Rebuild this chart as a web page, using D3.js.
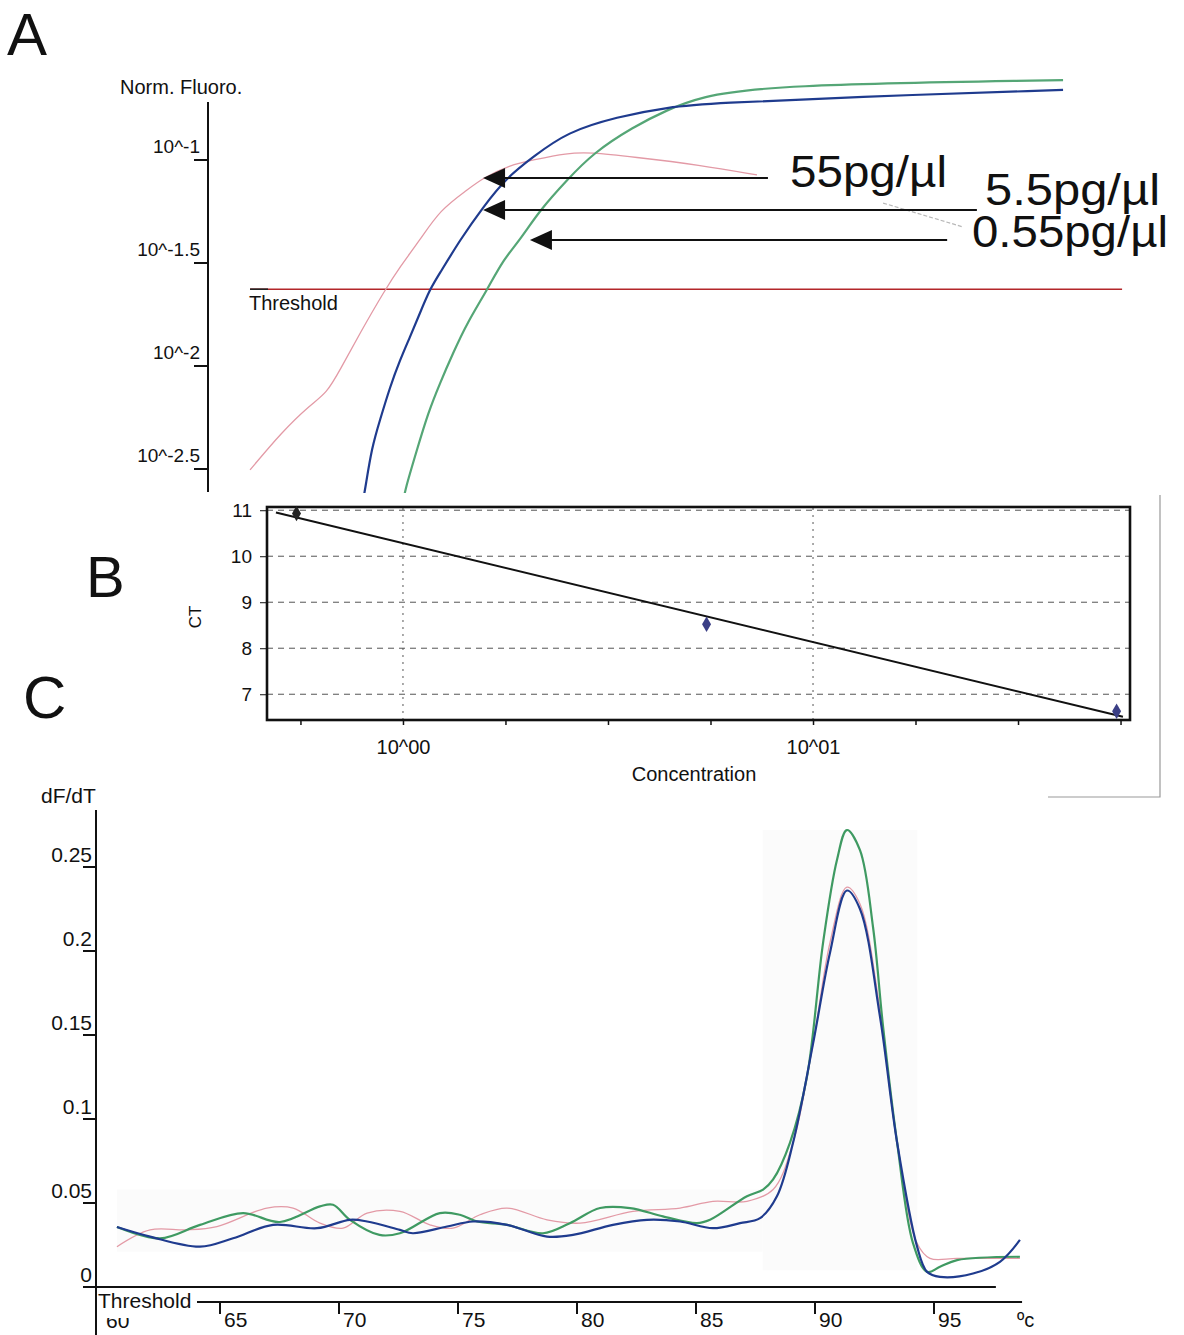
<!DOCTYPE html>
<html>
<head>
<meta charset="utf-8">
<script src="https://cdn.jsdelivr.net/npm/d3@7/dist/d3.min.js"></script>
<style>
  body { margin: 0; background: #fff; }
  text { font-family: "Liberation Sans", Arial, sans-serif; fill: #111; }
</style>
</head>
<body>
<div id="grafica"></div>
<script>
// ===== Datos panel A: curvas de amplificación (ciclo, fluorescencia normalizada) =====
var cicloRosa = [0.96, 2.30, 3.48, 4.19, 4.74, 5.58, 6.63, 7.26, 8.10, 8.94, 10.08, 10.75, 11.88, 12.85, 14.28, 15.24, 17.05, 19.87, 22.26];
var fluoRosa = [0.00313, 0.00479, 0.00647, 0.00740, 0.00957, 0.01445, 0.0234, 0.0303, 0.0409, 0.0572, 0.0715, 0.0818, 0.0946, 0.100, 0.108, 0.109, 0.1035, 0.0946, 0.0846];
var cicloRosaCola = [27.56, 30.92];
var fluoRosaCola = [0.0618, 0.0473];

var cicloAzul = [5.70, 5.79, 6.08, 6.42, 6.84, 7.26, 7.68, 8.10, 8.52, 8.94, 9.78, 10.75, 11.76, 12.85, 14.28, 16.38, 18.48, 20.58, 26.17, 35.12];
var fluoAzul = [0.0022, 0.0025, 0.00405, 0.00547, 0.00791, 0.01069, 0.01383, 0.01808, 0.02366, 0.02825, 0.0409, 0.0591, 0.0826, 0.1035, 0.1368, 0.1618, 0.1807, 0.189, 0.2023, 0.2188];

var cicloVerde = [7.40, 7.47, 7.97, 8.44, 8.94, 9.49, 10.08, 10.92, 11.59, 12.30, 13.14, 14.28, 15.37, 17.05, 18.48, 19.87, 22.68, 35.12];
var fluoVerde = [0.0022, 0.0025, 0.00391, 0.00592, 0.00826, 0.01156, 0.01618, 0.0234, 0.0327, 0.0409, 0.0572, 0.080, 0.108, 0.1445, 0.175, 0.2023, 0.231, 0.2443];

var umbral = 0.0236;
var umbralCiclos = [0.96, 37.6];
var ticksA = [0.1, 0.0316228, 0.01, 0.00316228];
var etiquetasA = ["10^-1", "10^-1.5", "10^-2", "10^-2.5"];

// flechas: punta (ciclo), final (ciclo), altura (fluorescencia)
var flechaPunta = [10.75, 10.75, 12.72];
var flechaFin = [22.72, 31.5, 30.25];
var flechaFluo = [0.0818, 0.0572, 0.0409];
var concTexto = ["55pg/µl", "5.5pg/µl", "0.55pg/µl"];

// ===== Datos panel B: curva estándar =====
var concB = [0.55, 5.5, 55];
var ctB = [10.93, 8.52, 6.63];
var ticksCT = [7, 8, 9, 10, 11];
var ticksConc = [0.5623, 1, 1.778, 3.162, 5.623, 10, 17.78, 31.62, 56.23];
var rejillaConc = [1, 10];
var rangoAjuste = [0.49, 57];

// ===== Datos panel C: curvas de fusión (temperatura, dF/dT) =====
var tempVerde = [60.67, 62.48, 64.16, 65.97, 67.52, 69.2, 69.75, 70.46, 71.7, 72.56, 74.24, 75.08, 75.8, 77.06, 78.57, 79.7, 80.97, 82.23, 83.61, 85.04, 85.59, 87.14, 87.82, 88.24, 88.95, 89.66, 90.34, 90.92, 91.34, 91.89, 92.44, 92.86, 93.45, 94.12, 94.71, 95.25, 95.97, 98.61];
var dfVerde = [0.0357, 0.029, 0.037, 0.044, 0.0387, 0.048, 0.049, 0.040, 0.031, 0.032, 0.044, 0.043, 0.039, 0.037, 0.032, 0.038, 0.047, 0.047, 0.042, 0.038, 0.040, 0.054, 0.058, 0.064, 0.086, 0.125, 0.205, 0.254, 0.272, 0.260, 0.214, 0.155, 0.086, 0.026, 0.009, 0.012, 0.016, 0.018];

var tempAzul = [60.67, 62.06, 64.16, 65.55, 67.23, 69.08, 70.46, 71.18, 72.56, 73.1, 74.54, 75.63, 77.06, 78.74, 79.83, 81.51, 82.94, 84.33, 85.71, 86.85, 87.69, 88.4, 89.08, 89.92, 90.63, 91.34, 91.89, 92.73, 93.45, 94.29, 94.71, 95.25, 96.64, 97.77, 98.61];
var dfAzul = [0.0357, 0.030, 0.024, 0.029, 0.037, 0.035, 0.040, 0.039, 0.034, 0.032, 0.036, 0.039, 0.037, 0.030, 0.031, 0.037, 0.040, 0.039, 0.035, 0.038, 0.041, 0.054, 0.086, 0.145, 0.199, 0.236, 0.225, 0.161, 0.086, 0.024, 0.009, 0.006, 0.008, 0.015, 0.028];

var tempRosa = [60.67, 62.06, 63.61, 64.87, 66.97, 68.07, 69.2, 70.17, 71.18, 72.56, 73.82, 74.79, 75.92, 77.06, 78.74, 80.13, 82.35, 84.33, 85.71, 87.14, 88.24, 89.08, 89.92, 90.63, 91.34, 91.89, 92.73, 93.45, 94.29, 94.83, 95.97, 98.61];
var dfRosa = [0.024, 0.034, 0.034, 0.036, 0.047, 0.047, 0.038, 0.035, 0.044, 0.045, 0.037, 0.035, 0.043, 0.047, 0.040, 0.038, 0.045, 0.047, 0.051, 0.051, 0.058, 0.086, 0.145, 0.205, 0.238, 0.228, 0.165, 0.086, 0.026, 0.017, 0.017, 0.017];

var ticksDF = [0, 0.05, 0.1, 0.15, 0.2, 0.25];
var etiquetasDF = ["0", "0.05", "0.1", "0.15", "0.2", "0.25"];
var ticksTemp = [65, 70, 75, 80, 85, 90, 95];

// colores
var colRosa = "#e39aa6", colAzul = "#1f3b8e", colVerde = "#55a676";

function unir(xs, ys) {
  return xs.map(function (d, i) { return { x: d, y: ys[i] }; });
}

var svg = d3.select("#grafica")
  .append("svg")
  .attr("width", 1184)
  .attr("height", 1335)
  .style("display", "block");

svg.append("rect").attr("width", 1184).attr("height", 1335).attr("fill", "#fff");

// ================= PANEL A =================
var xA = d3.scaleLinear().domain([0, 40]).range([227.2, 1179.2]);
var yA = d3.scaleLog().domain([0.01, 0.1]).range([366, 160]);

svg.append("text").attr("x", 7).attr("y", 55).style("font-size", "60px").text("A");

svg.append("text").attr("x", 120).attr("y", 94).style("font-size", "20px").text("Norm. Fluoro.");

// eje y
svg.append("line")
  .attr("x1", 208).attr("x2", 208).attr("y1", 102).attr("y2", 492)
  .attr("stroke", "#111").attr("stroke-width", 2);

svg.selectAll("tickA")
  .data(ticksA)
  .enter()
  .append("line")
  .attr("x1", 194).attr("x2", 208)
  .attr("y1", function (d) { return yA(d); })
  .attr("y2", function (d) { return yA(d); })
  .attr("stroke", "#111").attr("stroke-width", 2);

svg.selectAll("labA")
  .data(ticksA)
  .enter()
  .append("text")
  .attr("x", 200)
  .attr("y", function (d) { return yA(d) - 7; })
  .attr("text-anchor", "end")
  .style("font-size", "19px")
  .text(function (d, i) { return etiquetasA[i]; });

svg.append("clipPath").attr("id", "clipA")
  .append("rect").attr("x", 209).attr("y", 60).attr("width", 975).attr("height", 433);

var gA = svg.append("g").attr("clip-path", "url(#clipA)");

var lineaA = d3.line()
  .x(function (d) { return xA(d.x); })
  .y(function (d) { return yA(d.y); })
  .curve(d3.curveBasis);

// umbral
gA.append("line")
  .attr("x1", xA(umbralCiclos[0])).attr("x2", xA(umbralCiclos[1]))
  .attr("y1", yA(umbral)).attr("y2", yA(umbral))
  .attr("stroke", "#b3262a").attr("stroke-width", 1.6);
gA.append("line")
  .attr("x1", xA(umbralCiclos[0])).attr("x2", xA(umbralCiclos[0]) + 18)
  .attr("y1", yA(umbral)).attr("y2", yA(umbral))
  .attr("stroke", "#222").attr("stroke-width", 1.6);

gA.append("path")
  .datum(unir(cicloRosaCola, fluoRosaCola))
  .attr("d", lineaA)
  .attr("fill", "none").attr("stroke", "#b8b8b8").attr("stroke-width", 1.2)
  .style("stroke-dasharray", "4,2");

gA.append("path")
  .datum(unir(cicloRosa, fluoRosa))
  .attr("d", lineaA)
  .attr("fill", "none").attr("stroke", colRosa).attr("stroke-width", 1.3);

gA.append("path")
  .datum(unir(cicloVerde, fluoVerde))
  .attr("d", lineaA)
  .attr("fill", "none").attr("stroke", colVerde).attr("stroke-width", 2.2);

gA.append("path")
  .datum(unir(cicloAzul, fluoAzul))
  .attr("d", lineaA)
  .attr("fill", "none").attr("stroke", colAzul).attr("stroke-width", 2.2);

svg.append("text").attr("x", 249).attr("y", 310).style("font-size", "20px").text("Threshold");

// flechas
var flechas = flechaPunta.map(function (d, i) {
  return { punta: d, fin: flechaFin[i], f: flechaFluo[i] };
});
svg.selectAll("flecha")
  .data(flechas)
  .enter()
  .append("line")
  .attr("x1", function (d) { return xA(d.punta) + 15; })
  .attr("x2", function (d) { return xA(d.fin); })
  .attr("y1", function (d) { return yA(d.f); })
  .attr("y2", function (d) { return yA(d.f); })
  .attr("stroke", "#111").attr("stroke-width", 2);
svg.selectAll("punta")
  .data(flechas)
  .enter()
  .append("path")
  .attr("d", function (d) {
    var x = xA(d.punta), y = yA(d.f);
    return "M" + x + "," + y + "L" + (x + 22) + "," + (y - 10) + "L" + (x + 22) + "," + (y + 10) + "Z";
  })
  .attr("fill", "#111");

var posTexto = [[790, 187, 157], [985, 205, 175], [972, 247, 196]];
svg.selectAll("conc")
  .data(concTexto)
  .enter()
  .append("text")
  .attr("x", function (d, i) { return posTexto[i][0]; })
  .attr("y", function (d, i) { return posTexto[i][1]; })
  .attr("textLength", function (d, i) { return posTexto[i][2]; })
  .attr("lengthAdjust", "spacingAndGlyphs")
  .style("font-size", "44px")
  .text(function (d) { return d; });

// ================= PANEL B =================
var xB = d3.scaleLog().domain([0.466, 59.3]).range([267, 1130]);
var yB = d3.scaleLinear().domain([6.44, 11.07]).range([720, 507]);

svg.append("text").attr("x", 86).attr("y", 597).style("font-size", "58px").text("B");

// rejilla
svg.selectAll("rejH")
  .data(ticksCT)
  .enter()
  .append("line")
  .attr("x1", xB.range()[0]).attr("x2", xB.range()[1])
  .attr("y1", function (d) { return yB(d); })
  .attr("y2", function (d) { return yB(d); })
  .attr("stroke", "#555").attr("stroke-width", 1)
  .style("stroke-dasharray", "6,5");
svg.selectAll("rejV")
  .data(rejillaConc)
  .enter()
  .append("line")
  .attr("x1", function (d) { return xB(d); })
  .attr("x2", function (d) { return xB(d); })
  .attr("y1", yB.range()[0]).attr("y2", yB.range()[1])
  .attr("stroke", "#555").attr("stroke-width", 1)
  .style("stroke-dasharray", "2,5");

// marco
svg.append("rect")
  .attr("x", 267).attr("y", 507).attr("width", 863).attr("height", 213)
  .attr("fill", "none").attr("stroke", "#111").attr("stroke-width", 2.6);

// eje y
svg.append("g")
  .attr("transform", "translate(267,0)")
  .call(d3.axisLeft(yB).tickValues(ticksCT).tickSize(7).tickPadding(8).tickFormat(d3.format("d")))
  .call(function (g) { g.select(".domain").remove(); })
  .call(function (g) {
    g.selectAll("text").style("font-size", "19px").style("font-family", "Liberation Sans, Arial, sans-serif").attr("fill", "#111");
    g.selectAll("line").attr("stroke", "#111");
  });

// eje x
svg.append("g")
  .attr("transform", "translate(0,720)")
  .call(d3.axisBottom(xB).tickValues(ticksConc).tickSize(5).tickPadding(15)
    .tickFormat(function (d) { return d === 1 ? "10^00" : (d === 10 ? "10^01" : ""); }))
  .call(function (g) { g.select(".domain").remove(); })
  .call(function (g) {
    g.selectAll("text").style("font-size", "20px").style("font-family", "Liberation Sans, Arial, sans-serif").attr("fill", "#111");
    g.selectAll("line").attr("stroke", "#111").attr("stroke-width", 1.5);
  });

svg.append("text")
  .attr("x", 694).attr("y", 781)
  .attr("text-anchor", "middle")
  .style("font-size", "20px")
  .text("Concentration");

svg.append("text")
  .attr("transform", "translate(201,617) rotate(-90)")
  .attr("text-anchor", "middle")
  .style("font-size", "17px")
  .text("CT");

// recta de ajuste (mínimos cuadrados sobre log10 de la concentración)
var lx = concB.map(function (d) { return Math.log10(d); });
var mx = d3.mean(lx), my = d3.mean(ctB);
var pendiente = d3.sum(lx, function (d, i) { return (d - mx) * (ctB[i] - my); }) /
  d3.sum(lx, function (d) { return (d - mx) * (d - mx); });
var corte = my - pendiente * mx;
var ajuste = rangoAjuste.map(function (c) { return { x: c, y: corte + pendiente * Math.log10(c) }; });

svg.append("path")
  .datum(ajuste)
  .attr("d", d3.line().x(function (d) { return xB(d.x); }).y(function (d) { return yB(d.y); }))
  .attr("fill", "none").attr("stroke", "#111").attr("stroke-width", 2);

svg.selectAll("punto")
  .data(unir(concB, ctB))
  .enter()
  .append("path")
  .attr("transform", function (d) { return "translate(" + xB(d.x) + "," + yB(d.y) + ")"; })
  .attr("d", d3.symbol().type(d3.symbolDiamond).size(70))
  .attr("fill", function (d, i) { return i === 0 ? "#222" : "#3b3f86"; });

// corchete gris a la derecha
svg.append("path")
  .attr("d", "M1160,495L1160,797L1048,797")
  .attr("fill", "none").attr("stroke", "#999").attr("stroke-width", 1.2);

// ================= PANEL C =================
var xC = d3.scaleLinear().domain([60, 100]).range([101, 1053]);
var yC = d3.scaleLinear().domain([0, 0.25]).range([1287, 867]);

svg.append("text").attr("x", 23).attr("y", 718).style("font-size", "60px").text("C");
svg.append("text").attr("x", 41).attr("y", 803).style("font-size", "21px").text("dF/dT");

// fondos grises tenues
svg.append("rect")
  .attr("x", xC(60.67)).attr("y", yC(0.058))
  .attr("width", xC(87.8) - xC(60.67)).attr("height", yC(0.021) - yC(0.058))
  .attr("fill", "#fbfbfb");
svg.append("rect")
  .attr("x", xC(87.8)).attr("y", yC(0.272))
  .attr("width", xC(94.3) - xC(87.8)).attr("height", yC(0.01) - yC(0.272))
  .attr("fill", "#fbfbfb");

// eje y
svg.append("line")
  .attr("x1", 96).attr("x2", 96).attr("y1", 810).attr("y2", 1335)
  .attr("stroke", "#111").attr("stroke-width", 2);
svg.selectAll("tickC")
  .data(ticksDF)
  .enter()
  .append("line")
  .attr("x1", 83).attr("x2", 96)
  .attr("y1", function (d) { return yC(d); })
  .attr("y2", function (d) { return yC(d); })
  .attr("stroke", "#111").attr("stroke-width", 2);
svg.selectAll("labC")
  .data(ticksDF)
  .enter()
  .append("text")
  .attr("x", 92)
  .attr("y", function (d) { return yC(d) - 5; })
  .attr("text-anchor", "end")
  .style("font-size", "21px")
  .text(function (d, i) { return etiquetasDF[i]; });

// ejes x (dos líneas)
svg.append("line")
  .attr("x1", 96).attr("x2", xC(97.6)).attr("y1", 1287).attr("y2", 1287)
  .attr("stroke", "#111").attr("stroke-width", 2);
svg.append("line")
  .attr("x1", 197).attr("x2", xC(98.7)).attr("y1", 1302).attr("y2", 1302)
  .attr("stroke", "#111").attr("stroke-width", 2);

svg.selectAll("tickT")
  .data(ticksTemp)
  .enter()
  .append("line")
  .attr("x1", function (d) { return xC(d); })
  .attr("x2", function (d) { return xC(d); })
  .attr("y1", 1303).attr("y2", 1314)
  .attr("stroke", "#111").attr("stroke-width", 2);
svg.selectAll("labT")
  .data(ticksTemp)
  .enter()
  .append("text")
  .attr("x", function (d) { return xC(d) + 4; })
  .attr("y", 1327)
  .style("font-size", "21px")
  .text(function (d) { return d; });

// "60" medio tapado por el texto Threshold
svg.append("clipPath").attr("id", "clip60")
  .append("rect").attr("x", 96).attr("y", 1318).attr("width", 60).attr("height", 20);
svg.append("text")
  .attr("clip-path", "url(#clip60)")
  .attr("x", xC(60) + 5).attr("y", 1328)
  .style("font-size", "21px")
  .text("60");

svg.append("text").attr("x", 98).attr("y", 1308).style("font-size", "21px").text("Threshold");
svg.append("text").attr("x", 1017).attr("y", 1327).style("font-size", "20px").text("ºc");

var lineaC = d3.line()
  .x(function (d) { return xC(d.x); })
  .y(function (d) { return yC(d.y); })
  .curve(d3.curveCatmullRom);

svg.append("path")
  .datum(unir(tempRosa, dfRosa))
  .attr("d", lineaC)
  .attr("fill", "none").attr("stroke", colRosa).attr("stroke-width", 1.3);
svg.append("path")
  .datum(unir(tempVerde, dfVerde))
  .attr("d", lineaC)
  .attr("fill", "none").attr("stroke", "#3f9a62").attr("stroke-width", 2.2);
svg.append("path")
  .datum(unir(tempAzul, dfAzul))
  .attr("d", lineaC)
  .attr("fill", "none").attr("stroke", colAzul).attr("stroke-width", 2.2);
</script>
</body>
</html>
